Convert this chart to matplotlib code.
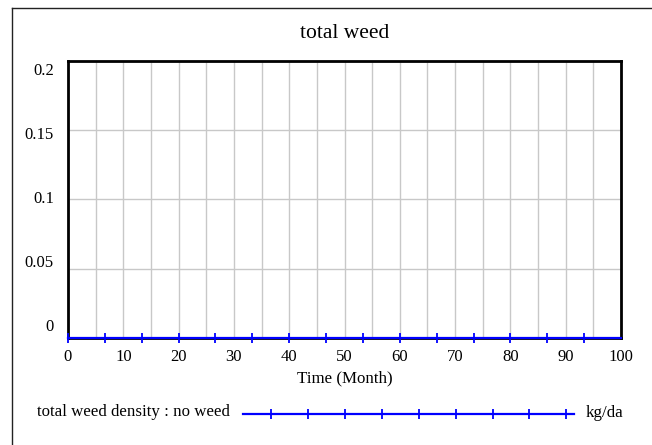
import numpy as np
import matplotlib
matplotlib.use("Agg")
import matplotlib.pyplot as plt
from matplotlib.lines import Line2D
import matplotlib.transforms as mtransforms

# ---- data ----
title = "total weed"
x_label = "Time (Month)"
series_label = "total weed density : no weed"
units_label = "kg/da"
time = [0, 6.667, 13.333, 20, 26.667, 33.333, 40, 46.667, 53.333, 60,
        66.667, 73.333, 80, 86.667, 93.333, 100]
weed_density = [0, 0, 0, 0, 0, 0, 0, 0, 0, 0, 0, 0, 0, 0, 0, 0]
x_ticks = [0, 10, 20, 30, 40, 50, 60, 70, 80, 90, 100]
y_ticks = [0, 0.05, 0.1, 0.15, 0.2]
y_tick_labels = ["0", "0.05", "0.1", "0.15", "0.2"]

FONT = ["Liberation Serif", "DejaVu Serif"]
plt.rcParams['font.family'] = FONT
BLUE = "#0000ff"

fig = plt.figure(figsize=(6.52, 4.45), dpi=100)
fig.patch.set_facecolor("white")
W, H = 652, 445

def fx(px):
    return px / W

def fy(py):
    return 1 - py / H

ax = fig.add_axes([fx(68), fy(338), fx(621) - fx(68), (338 - 60.5) / H])
ax.set_xlim(0, 100)
ax.set_ylim(0, 0.2)

# grid
ax.set_xticks(np.arange(0, 101, 5), minor=False)
ax.set_yticks(y_ticks)
ax.grid(True, color="#c8c8c8", linewidth=1.0)
ax.set_axisbelow(True)
ax.tick_params(length=0)
ax.set_xticklabels([])
ax.set_yticklabels([])
for s in ax.spines.values():
    s.set_linewidth(2.0)
    s.set_color("black")

# x tick labels
for v in x_ticks:
    ax.text(v, -0.0135, str(v), ha="center", va="center", fontsize=12,
            family=FONT, transform=ax.transData, clip_on=False)
# y tick labels (Vensim-style offsets)
ytrans = mtransforms.blended_transform_factory(fig.transFigure, ax.transAxes)
for v, lab in zip(y_ticks, y_tick_labels):
    frac = 0.0386 + (v / 0.2) * 0.925
    ax.text(fx(54), frac, lab, ha="right", va="center", fontsize=12,
            family=FONT, transform=ytrans, clip_on=False)

# data line
ax.plot(time, weed_density, color=BLUE, linewidth=1.6, clip_on=False, zorder=5)
ax.plot(time[:-1], weed_density[:-1], linestyle="none", marker="|",
        markersize=7, markeredgewidth=1.3, color=BLUE, clip_on=False, zorder=6)

# title and x label
fig.text(fx(344.5), fy(34), title, ha="center", va="center", fontsize=15.5, family=FONT)
fig.text(fx(344.5), fy(378), x_label, ha="center", va="center", fontsize=12.2, family=FONT)

# legend
fig.text(fx(37), fy(412), series_label, ha="left", va="center", fontsize=12.2, family=FONT)
fig.lines.append(Line2D([fx(243), fx(574)], [fy(414), fy(414)],
                        transform=fig.transFigure, color=BLUE, linewidth=1.6))
leg_marks_px = [271, 308, 345, 382, 419, 456, 493, 529, 566]
fig.lines.append(Line2D([fx(p) for p in leg_marks_px], [fy(414)] * len(leg_marks_px),
                        transform=fig.transFigure, color=BLUE, linestyle="none",
                        marker="|", markersize=7, markeredgewidth=1.3))
fig.text(fx(586), fy(413), units_label, ha="left", va="center", fontsize=12.2, family=FONT)

# outer frame (left and top edges)
fig.lines.append(Line2D([fx(12), fx(12)], [fy(8), 0], transform=fig.transFigure,
                        color="#222222", linewidth=1.0))
fig.lines.append(Line2D([fx(12), 1], [fy(8), fy(8)], transform=fig.transFigure,
                        color="#222222", linewidth=1.0))

fig.savefig("out.png", dpi=100, facecolor="white")
